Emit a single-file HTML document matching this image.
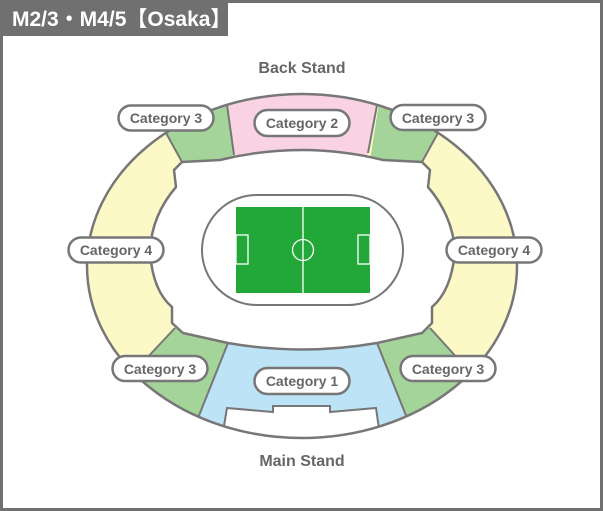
<!DOCTYPE html>
<html><head><meta charset="utf-8"><style>
html,body{margin:0;padding:0;background:#fff}
body{width:603px;height:511px;overflow:hidden;position:relative;font-family:"Liberation Sans","Noto Sans CJK JP",sans-serif}
</style></head><body>
<svg width="603" height="511" viewBox="0 0 603 511" xmlns="http://www.w3.org/2000/svg" style="position:absolute;left:0;top:0">
<defs>
<clipPath id="oc"><ellipse cx="302" cy="266" rx="215" ry="172"/></clipPath>
</defs>
<rect x="1.5" y="1.5" width="600" height="508" fill="#fff" stroke="#707070" stroke-width="3"/>
<rect x="0" y="0" width="228" height="36" fill="#707070"/>
<text x="12" y="26" font-size="21" font-weight="bold" fill="#fff" font-family="Liberation Sans, Noto Sans CJK JP, sans-serif">M2/3・M4/5【Osaka】</text>

<g clip-path="url(#oc)">
<rect x="80" y="90" width="445" height="355" fill="#fdf9c6"/>
<polygon points="219,50 240,200 359,200 387,50" fill="#f9d3e3"/>
<polygon points="126,60 219,50 240,200 230,250" fill="#a4d49a"/>
<polygon points="478,60 387,50 364,200 374,250" fill="#a4d49a"/>
<polygon points="53,460 247,250 265,250 181,460" fill="#a4d49a"/>
<polygon points="181,460 265,250 339,250 424,460" fill="#bde3f6"/>
<polygon points="424,460 339,250 357,250 552,460" fill="#a4d49a"/>
<g stroke="#777" stroke-width="2" fill="none">
<line x1="227" y1="105" x2="234" y2="155"/>
<line x1="377" y1="105" x2="368" y2="153"/>
<line x1="160" y1="122" x2="182" y2="162"/>
<line x1="444" y1="122" x2="422" y2="162"/>
<line x1="145" y1="360" x2="175" y2="328"/>
<line x1="459" y1="360" x2="430" y2="328"/>
<line x1="196" y1="423" x2="228" y2="343"/>
<line x1="409" y1="423" x2="377" y2="343"/>
</g>
<polygon points="227,408 273,412 273,406 330,406 330,412 376,408 382,450 220,450" fill="#fff" stroke="#777" stroke-width="2"/>
</g>
<ellipse cx="302" cy="266" rx="215" ry="172" fill="none" stroke="#777" stroke-width="2.5"/>

<path d="M182,162 L220,160 Q302,140 383,160 L422,162 L430,170 L428,187 Q452,215 455,250 Q452,290 432,307 L432,323 L422,333 L377,343 Q302,356 228,343 L183,333 L172,323 L172,307 Q152,290 150,250 Q152,215 176,187 L174,170 Z" fill="#fff" stroke="#777" stroke-width="2.5" stroke-linejoin="round"/>

<rect x="202" y="195" width="201" height="110" rx="55" ry="55" fill="#fff" stroke="#777" stroke-width="2"/>
<rect x="236" y="207" width="134" height="86" fill="#22a838"/>
<g stroke="#fff" stroke-width="1.3" fill="none">
<line x1="303" y1="207" x2="303" y2="293"/>
<circle cx="303" cy="250" r="10.5"/>
<rect x="236" y="235" width="12" height="29"/>
<rect x="358" y="235" width="12" height="29"/>
</g>

<g font-family="Liberation Sans, sans-serif" font-weight="bold" fill="#666" text-anchor="middle">
<text x="302" y="73" font-size="16">Back Stand</text>
<text x="302" y="466" font-size="16">Main Stand</text>
</g>
<g font-family="Liberation Sans, sans-serif" font-weight="bold" font-size="14" fill="#666" text-anchor="middle">
<g stroke="#777" stroke-width="2.5" fill="#fff">
<rect x="118.5" y="105.5" width="95" height="25" rx="12.5"/>
<rect x="254.5" y="110" width="95" height="26" rx="13"/>
<rect x="390.5" y="105" width="95" height="25" rx="12.5"/>
<rect x="68.5" y="237.5" width="95" height="25" rx="12.5"/>
<rect x="446.5" y="237.5" width="95" height="25" rx="12.5"/>
<rect x="112.5" y="356" width="95" height="25" rx="12.5"/>
<rect x="254.5" y="368" width="95" height="26" rx="13"/>
<rect x="400.5" y="356" width="95" height="25" rx="12.5"/>
</g>
<text x="166" y="123">Category 3</text>
<text x="302" y="128">Category 2</text>
<text x="438" y="123">Category 3</text>
<text x="116" y="255">Category 4</text>
<text x="494" y="255">Category 4</text>
<text x="160" y="374">Category 3</text>
<text x="302" y="386">Category 1</text>
<text x="448" y="374">Category 3</text>
</g>
</svg>
</body></html>
